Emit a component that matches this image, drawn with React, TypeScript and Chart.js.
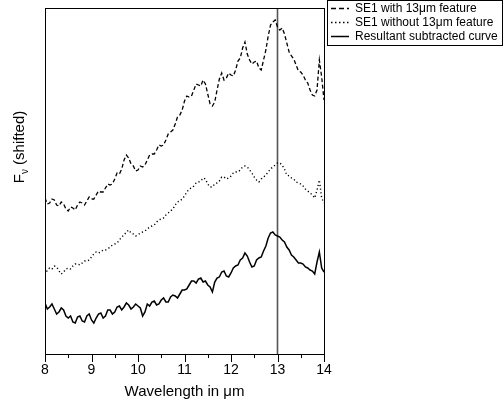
import React, { useEffect, useRef } from 'react';
import { Chart, registerables } from 'chart.js';

Chart.register(...registerables);

const wavelengths = [
  8.0, 8.05, 8.1, 8.15, 8.2, 8.25, 8.3, 8.35, 8.4, 8.45,
  8.5, 8.55, 8.6, 8.65, 8.7, 8.75, 8.8, 8.85, 8.9, 8.95,
  9.0, 9.05, 9.1, 9.15, 9.2, 9.25, 9.3, 9.35, 9.4, 9.45,
  9.5, 9.55, 9.6, 9.65, 9.7, 9.75, 9.8, 9.85, 9.9, 9.95,
  10.0, 10.05, 10.1, 10.15, 10.2, 10.25, 10.3, 10.35, 10.4, 10.45,
  10.5, 10.55, 10.6, 10.65, 10.7, 10.75, 10.8, 10.85, 10.9, 10.95,
  11.0, 11.05, 11.1, 11.15, 11.2, 11.25, 11.3, 11.35, 11.4, 11.45,
  11.5, 11.55, 11.6, 11.65, 11.7, 11.75, 11.8, 11.85, 11.9, 11.95,
  12.0, 12.05, 12.1, 12.15, 12.2, 12.25, 12.3, 12.35, 12.4, 12.45,
  12.5, 12.55, 12.6, 12.65, 12.7, 12.75, 12.8, 12.85, 12.9, 12.95,
  13.0, 13.05, 13.1, 13.15, 13.2, 13.25, 13.3, 13.35, 13.4, 13.45,
  13.5, 13.55, 13.6, 13.65, 13.7, 13.75, 13.8, 13.85, 13.9, 13.95,
  14.0,
];

const withFeature = [
  156, 150, 151, 155, 154, 149, 148, 152, 150, 145,
  143, 147, 146, 144, 149, 152, 151, 149, 153, 157,
  155, 155, 159, 163, 162, 162, 166, 170, 169, 170,
  175, 181, 180, 185, 194, 199, 196, 190, 188, 183,
  184, 188, 187, 189, 194, 199, 200, 200, 204, 209,
  208, 209, 214, 220, 222, 224, 230, 237, 239, 244,
  253, 258, 257, 258, 264, 270, 269, 268, 274, 270,
  260, 250, 248, 252, 264, 275, 281, 274, 276, 281,
  279, 278, 284, 293, 296, 306, 312, 300, 294, 290,
  292, 293, 286, 284, 294, 304, 318, 329, 332, 334,
  327, 324, 326, 320, 311, 302, 298, 295, 289, 283,
  282, 279, 274, 271, 264, 259, 258, 264, 294, 277,
  254,
];

const withoutFeature = [
  79, 84, 86, 85, 88, 87, 83, 80, 82, 85,
  86, 85, 88, 90, 90, 89, 91, 93, 93, 94,
  97, 100, 102, 101, 102, 104, 104, 105, 107, 109,
  110, 111, 114, 117, 119, 122, 124, 121, 120, 118,
  119, 121, 122, 123, 125, 127, 128, 129, 132, 134,
  135, 136, 139, 141, 143, 145, 149, 152, 153, 155,
  158, 162, 165, 166, 168, 171, 172, 173, 176, 175,
  170, 167, 167, 170, 171, 173, 177, 177, 175, 176,
  178, 181, 182, 182, 184, 187, 188, 187, 184, 181,
  177, 174, 172, 175, 177, 179, 182, 185, 187, 189,
  191, 191, 189, 185, 179, 178, 176, 175, 172, 171,
  170, 168, 165, 163, 161, 159, 156, 164, 174, 156,
  151,
];

const subtracted = [
  51, 45, 47, 50, 45, 40, 42, 46, 44, 38,
  36, 38, 32, 31, 37, 38, 33, 32, 38, 40,
  34, 31, 36, 40, 41, 36, 38, 44, 44, 40,
  42, 47, 48, 44, 47, 51, 49, 45, 47, 50,
  48, 46, 38, 42, 50, 48, 52, 53, 49, 50,
  54, 56, 52, 52, 57, 59, 58, 56, 60, 64,
  64, 65, 69, 73, 73, 71, 75, 76, 72, 73,
  69, 67, 62, 72, 76, 77, 82, 83, 78, 77,
  81, 86, 88, 89, 94, 96, 101, 98, 92, 87,
  88, 94, 96, 97, 103, 108, 116, 121, 122, 119,
  118, 117, 114, 112, 107, 104, 99, 97, 94, 91,
  91, 90, 87, 86, 84, 83, 80, 92, 102, 86,
  82,
];

const seriesLabels = [
  'SE1 with 13\u03bcm feature',
  'SE1 without 13\u03bcm feature',
  'Resultant subtracted curve',
];
const xMin = 8;
const xMax = 14;
const yMin = 0;
const yMax = 346;
const markerWavelength = 13;
const xTitle = 'Wavelength in \u03bcm';

const FONT = '"Liberation Sans", Arial, Helvetica, sans-serif';

const toPoints = (ys: number[]) => wavelengths.map((x, i) => ({ x, y: ys[i] }));

const dashes: number[][] = [[4, 2.5], [1.2, 2.5], []];

const decorPlugin = {
  id: 'decor',
  afterDraw(chart: any) {
    const ctx = chart.ctx as CanvasRenderingContext2D;
    const area = chart.chartArea;
    const xs = chart.scales.x;
    ctx.save();
    ctx.strokeStyle = '#000';
    ctx.lineWidth = 1;
    ctx.setLineDash([]);
    ctx.strokeRect(Math.round(area.left) + 0.5, Math.round(area.top) + 0.5,
      Math.round(area.right - area.left), Math.round(area.bottom - area.top));
    for (let v = xMin; v <= xMax + 1e-9; v += 0.5) {
      const px = Math.round(xs.getPixelForValue(v)) + 0.5;
      const major = Math.abs(v - Math.round(v)) < 1e-6;
      ctx.beginPath();
      ctx.moveTo(px, area.bottom);
      ctx.lineTo(px, area.bottom + (major ? 8 : 4));
      ctx.stroke();
    }
    ctx.translate(20, 147);
    ctx.rotate(-Math.PI / 2);
    ctx.fillStyle = '#000';
    ctx.textBaseline = 'middle';
    const big = `15px ${FONT}`;
    const small = `10px ${FONT}`;
    ctx.font = big;
    const wF = ctx.measureText('F').width;
    const wRest = ctx.measureText(' (shifted)').width;
    ctx.font = small;
    const wNu = ctx.measureText('\u03bd').width;
    const total = wF + wNu + wRest;
    let cx = -total / 2;
    ctx.textAlign = 'left';
    ctx.font = big;
    ctx.fillText('F', cx, 0);
    cx += wF;
    ctx.font = small;
    ctx.fillText('\u03bd', cx, 5);
    cx += wNu;
    ctx.font = big;
    ctx.fillText(' (shifted)', cx, 0);
    ctx.restore();

    ctx.save();
    ctx.strokeStyle = '#000';
    ctx.lineWidth = 1;
    ctx.strokeRect(327.5, 0.5, 175, 45);
    ctx.font = `12px ${FONT}`;
    ctx.fillStyle = '#000';
    ctx.textBaseline = 'middle';
    ctx.textAlign = 'left';
    seriesLabels.forEach((label, i) => {
      const y = 8 + i * 14;
      ctx.beginPath();
      ctx.setLineDash(i === 0 ? [5, 3] : i === 1 ? [1.5, 2.5] : []);
      ctx.lineWidth = i === 2 ? 1.5 : 1.3;
      ctx.moveTo(331, y + 0.5);
      ctx.lineTo(349, y + 0.5);
      ctx.stroke();
      ctx.setLineDash([]);
      ctx.fillText(label, 355, y + 1);
    });
    ctx.restore();
  },
};

export default function App() {
  const ref = useRef<HTMLCanvasElement | null>(null);
  useEffect(() => {
    document.body.style.margin = '0';
    const canvas = ref.current;
    if (!canvas) return;
    const chart = new Chart(canvas, {
      type: 'line',
      data: {
        datasets: [
          {
            label: seriesLabels[0],
            data: toPoints(withFeature),
            borderColor: '#000',
            borderWidth: 1.3,
            borderDash: dashes[0],
            pointRadius: 0,
            tension: 0,
          },
          {
            label: seriesLabels[1],
            data: toPoints(withoutFeature),
            borderColor: '#000',
            borderWidth: 1.4,
            borderDash: dashes[1],
            pointRadius: 0,
            tension: 0,
          },
          {
            label: seriesLabels[2],
            data: toPoints(subtracted),
            borderColor: '#000',
            borderWidth: 1.5,
            pointRadius: 0,
            tension: 0,
          },
          {
            label: 'marker',
            data: [{ x: markerWavelength, y: yMin }, { x: markerWavelength, y: yMax }],
            borderColor: '#555',
            borderWidth: 1.6,
            pointRadius: 0,
          },
        ],
      },
      options: {
        animation: false,
        responsive: false,
        events: [],
        layout: { padding: { left: 45, right: 180, top: 8, bottom: 0 } },
        plugins: { legend: { display: false }, tooltip: { enabled: false } },
        scales: {
          x: {
            type: 'linear',
            min: xMin,
            max: xMax,
            grid: { display: false, drawTicks: false },
            border: { display: false },
            ticks: {
              stepSize: 1,
              padding: 8,
              color: '#000',
              font: { family: FONT, size: 14 },
              maxRotation: 0,
              autoSkip: false,
            },
            title: {
              display: true,
              text: xTitle,
              color: '#000',
              font: { family: FONT, size: 15 },
              padding: { top: 0, bottom: 4 },
            },
            afterFit(scale: any) {
              scale.height = 51;
            },
          },
          y: {
            type: 'linear',
            display: false,
            min: yMin,
            max: yMax,
          },
        },
      },
      plugins: [decorPlugin],
    });
    return () => chart.destroy();
  }, []);
  return (
    <div style={{ width: 504, height: 405 }}>
      <canvas ref={ref} width={504} height={405} />
    </div>
  );
}
